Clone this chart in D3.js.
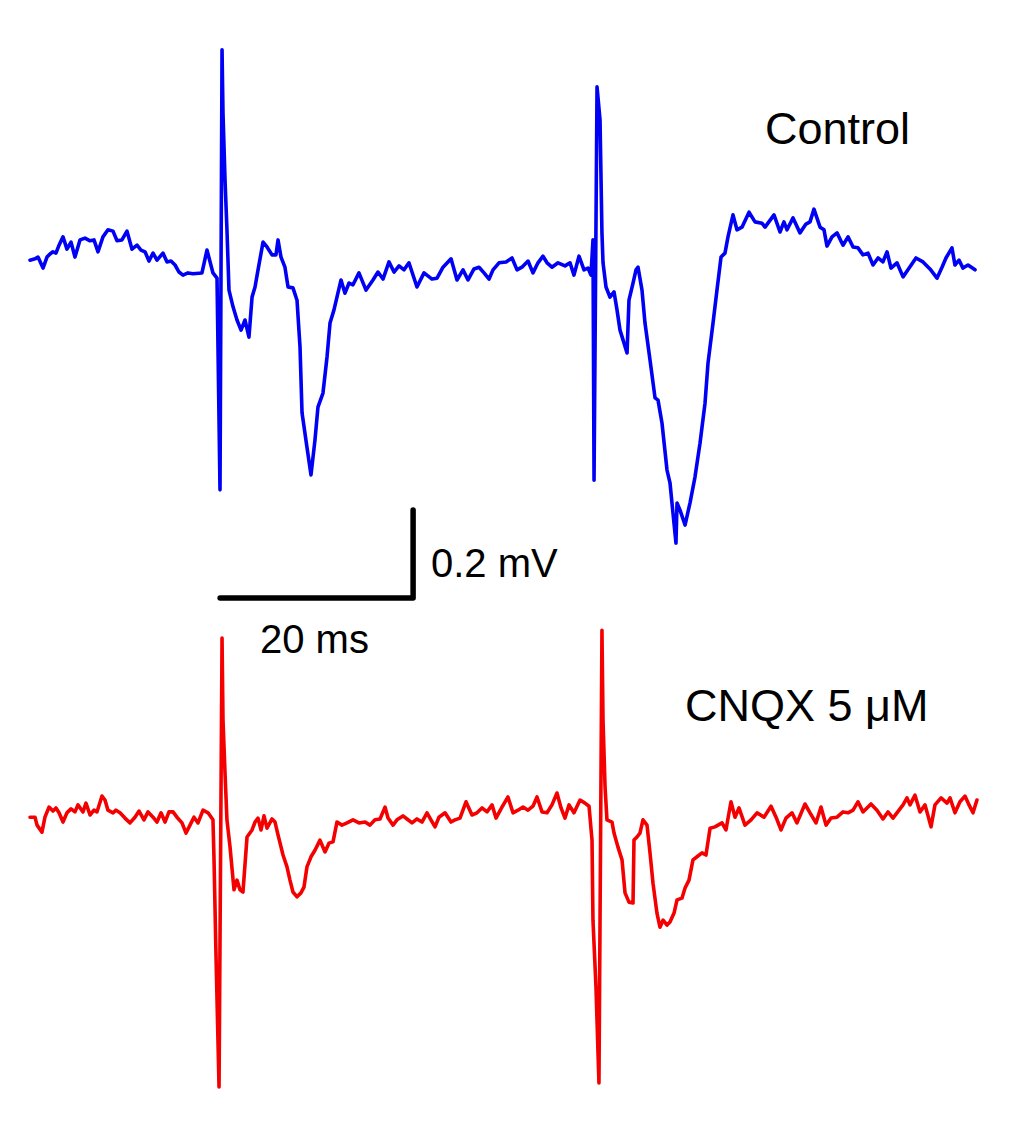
<!DOCTYPE html>
<html>
<head>
<meta charset="utf-8">
<script src="https://cdn.jsdelivr.net/npm/d3@7"></script>
<style>
  html, body { margin: 0; padding: 0; background: #ffffff; }
  svg { display: block; }
  text { font-family: "Liberation Sans", Arial, sans-serif; fill: #000; }
</style>
</head>
<body>
<script>
// ---- Data (time in ms, voltage in mV) ----
const controlTime = [0.00,0.52,0.83,1.35,1.76,2.07,2.38,2.69,3.01,3.42,3.83,4.25,4.66,5.18,5.70,6.22,6.63,7.05,7.56,8.08,8.60,9.02,9.53,10.05,10.57,11.09,11.50,11.92,12.33,12.75,13.16,13.78,14.20,14.61,15.03,15.44,15.85,16.37,16.89,17.82,18.34,18.96,19.38,19.69,19.90,20.00,20.21,20.41,20.62,21.04,21.45,21.87,22.28,22.69,23.01,23.32,23.63,24.15,24.56,25.08,25.49,25.70,26.01,26.42,26.74,27.25,27.67,27.98,28.19,28.70,29.12,29.53,29.84,30.36,30.78,31.09,31.50,31.81,32.23,32.64,33.06,33.47,34.09,34.82,35.54,36.06,36.58,37.20,37.72,38.24,38.76,39.27,40.10,40.83,41.66,42.18,42.80,43.63,44.25,44.87,45.39,46.01,46.53,47.05,47.57,47.98,48.60,49.33,49.95,50.47,50.98,51.61,52.12,52.64,53.16,53.58,54.09,54.72,55.44,55.96,56.37,56.89,57.41,57.82,58.13,58.34,58.45,58.76,59.07,59.27,59.38,59.69,60.10,60.52,60.83,61.14,61.55,61.87,62.07,62.49,62.80,63.01,63.42,63.73,64.25,64.77,65.08,65.49,66.01,66.32,66.63,66.94,67.05,67.36,67.88,68.39,68.91,69.43,69.95,70.26,70.78,71.19,71.61,72.02,72.33,72.85,73.26,73.78,74.51,75.13,75.85,76.17,77.10,77.72,78.13,78.45,79.07,79.79,80.41,80.83,81.24,81.87,82.28,82.59,83.11,83.63,84.25,84.77,85.29,85.80,86.32,86.84,87.36,87.88,88.39,88.81,89.22,89.84,90.47,90.98,91.81,92.54,93.26,93.99,94.51,94.92,95.54,95.85,96.27,96.68,97.20,97.93];
const controlVoltage = [0.011,0.014,0.018,-0.007,0.018,0.025,0.030,0.027,0.045,0.064,0.036,0.052,0.018,0.057,0.061,0.055,0.057,0.030,0.064,0.080,0.077,0.055,0.057,0.077,0.036,0.045,0.034,0.030,0.009,0.027,0.011,0.027,0.007,0.009,0.000,-0.016,-0.023,-0.018,-0.020,-0.018,0.034,-0.018,-0.030,-0.511,0.489,0.345,0.193,0.080,-0.057,-0.095,-0.125,-0.148,-0.125,-0.164,-0.073,-0.050,-0.011,0.052,0.041,0.023,0.023,0.057,0.018,-0.005,-0.050,-0.052,-0.080,-0.186,-0.336,-0.414,-0.477,-0.398,-0.323,-0.291,-0.209,-0.132,-0.102,-0.073,-0.034,-0.064,-0.041,-0.045,-0.018,-0.057,-0.034,-0.016,-0.032,0.007,-0.016,-0.002,-0.011,0.005,-0.050,-0.018,-0.032,-0.030,-0.005,0.014,-0.034,-0.011,-0.034,-0.009,-0.005,-0.018,-0.032,-0.011,0.005,0.007,0.016,-0.011,-0.005,0.009,-0.018,0.005,0.020,0.005,-0.005,0.005,-0.002,0.005,-0.023,0.020,-0.011,-0.007,-0.023,0.057,-0.489,0.405,0.330,0.073,0.005,-0.050,-0.073,-0.061,-0.102,-0.148,-0.177,-0.200,-0.080,-0.041,-0.011,-0.005,-0.057,-0.132,-0.216,-0.302,-0.307,-0.359,-0.466,-0.495,-0.564,-0.632,-0.541,-0.557,-0.591,-0.541,-0.482,-0.405,-0.314,-0.223,-0.132,-0.057,0.018,0.027,0.064,0.114,0.080,0.086,0.120,0.098,0.095,0.086,0.114,0.075,0.098,0.080,0.107,0.073,0.093,0.098,0.127,0.086,0.080,0.043,0.064,0.073,0.045,0.064,0.041,0.039,0.023,0.027,0.000,0.016,0.007,0.030,-0.007,0.005,-0.027,-0.011,0.016,0.007,-0.009,-0.030,-0.005,0.016,0.039,0.000,0.011,-0.007,0.000,-0.011];

const cnqxTime = [0.00,0.52,0.73,1.24,1.55,1.97,2.38,2.69,3.01,3.42,3.83,4.25,4.66,4.97,5.49,5.80,6.22,6.63,6.94,7.46,7.77,8.08,8.60,8.91,9.33,9.84,10.36,10.88,11.30,11.81,12.23,12.75,13.16,13.58,13.99,14.40,14.82,15.23,15.75,16.17,16.58,16.99,17.41,17.93,18.45,18.96,19.07,19.27,19.59,19.90,20.00,20.21,20.41,20.73,21.14,21.45,21.76,22.07,22.49,23.01,23.32,23.63,23.94,24.25,24.56,25.08,25.39,25.70,26.22,26.63,26.94,27.25,27.67,28.08,28.39,28.70,29.12,29.53,30.05,30.57,30.98,31.40,31.81,32.33,32.85,33.47,34.09,34.72,35.23,35.75,36.27,36.79,37.10,37.62,38.03,38.65,39.07,39.59,40.10,40.62,41.14,41.55,41.97,42.38,43.01,43.63,44.04,44.56,45.18,45.80,46.32,46.84,47.36,47.88,48.29,48.91,49.53,50.05,50.57,51.09,51.61,52.12,52.54,53.06,53.58,54.09,54.61,55.03,55.44,55.86,56.37,57.00,57.51,57.93,58.24,58.34,58.65,58.96,59.27,59.38,59.59,59.79,60.31,60.52,60.93,61.35,61.66,62.07,62.49,62.59,62.90,63.21,63.52,63.94,64.25,64.56,64.97,65.28,65.60,66.01,66.32,66.74,67.05,67.56,67.88,68.29,68.70,69.12,69.64,70.05,70.47,70.98,71.71,72.12,72.64,73.06,73.47,74.09,74.72,75.34,76.06,76.79,77.31,77.82,78.34,78.96,79.48,80.31,80.83,81.45,81.97,82.49,83.01,83.63,84.25,84.77,85.29,85.80,86.32,87.15,87.77,88.39,88.91,89.43,89.84,90.47,90.88,91.19,91.71,92.23,92.75,93.37,93.78,94.41,95.03,95.34,95.85,96.37,96.89,97.31,97.72,98.13];
const cnqxVoltage = [-0.005,-0.005,-0.023,-0.039,-0.005,0.018,0.009,0.016,0.005,-0.016,0.005,0.014,0.007,0.023,0.007,0.027,0.000,0.011,0.007,0.043,0.034,0.011,0.005,0.011,0.005,-0.007,-0.018,-0.005,0.009,-0.011,0.007,-0.005,-0.016,0.005,-0.016,0.007,0.007,-0.005,-0.018,-0.041,-0.023,-0.005,-0.018,0.011,0.005,-0.011,-0.102,-0.314,-0.618,0.402,0.216,0.095,-0.011,-0.073,-0.170,-0.148,-0.170,-0.175,-0.050,-0.034,-0.016,-0.007,-0.034,-0.002,-0.030,-0.009,-0.016,-0.045,-0.091,-0.118,-0.148,-0.175,-0.186,-0.177,-0.164,-0.118,-0.095,-0.080,-0.057,-0.084,-0.064,-0.061,-0.016,-0.023,-0.018,-0.011,-0.018,-0.016,-0.023,-0.011,-0.009,0.018,-0.007,-0.023,-0.011,-0.002,-0.009,-0.018,-0.009,-0.016,0.005,-0.011,-0.027,-0.005,0.005,-0.016,-0.011,-0.007,0.030,0.000,0.005,0.016,0.007,0.023,-0.007,0.018,0.041,0.005,0.011,0.018,0.011,0.020,0.041,0.007,0.005,0.023,0.050,0.016,-0.007,0.023,0.005,0.034,0.027,0.020,-0.057,-0.239,-0.391,-0.609,0.420,0.216,0.064,-0.011,-0.016,-0.041,-0.073,-0.102,-0.177,-0.198,-0.200,-0.057,-0.050,-0.041,-0.011,-0.023,-0.086,-0.155,-0.223,-0.255,-0.239,-0.250,-0.243,-0.223,-0.193,-0.189,-0.166,-0.148,-0.102,-0.095,-0.086,-0.091,-0.030,-0.027,-0.018,-0.034,0.030,-0.005,0.016,-0.023,-0.011,0.005,-0.005,0.020,-0.005,-0.034,-0.007,0.005,-0.018,0.025,0.005,-0.018,0.018,-0.023,-0.007,-0.005,0.007,0.005,0.011,0.030,0.007,0.025,0.011,-0.009,0.007,-0.007,0.005,0.023,0.039,0.023,0.045,0.007,0.023,-0.027,0.023,0.039,0.027,0.039,0.005,0.030,0.043,0.023,0.005,0.034];

const traceLabels = ["Control", "CNQX 5 \u03BCM"];
const traceColors = ["#0000f5", "#f50000"];
const scaleBarTime = 20;      // ms
const scaleBarVolt = 0.2;     // mV
const scaleBarLabels = ["20 ms", "0.2 mV"];

// ---- Layout ----
const W = 1024, H = 1123;
const svg = d3.select("body").append("svg").attr("width", W).attr("height", H);

// 9.65 px per ms, 440 px per mV
const x = d3.scaleLinear().domain([0, 100]).range([30, 995]);
const yControl = d3.scaleLinear().domain([-1, 1]).range([265 + 440, 265 - 440]);
const yCnqx = d3.scaleLinear().domain([-1, 1]).range([815 + 440, 815 - 440]);

function drawTrace(times, volts, yScale, color) {
  const pts = d3.zip(times, volts);
  const line = d3.line().x(d => x(d[0])).y(d => yScale(d[1]));
  svg.append("path")
    .datum(pts)
    .attr("d", line)
    .attr("fill", "none")
    .attr("stroke", color)
    .attr("stroke-width", 3.6)
    .attr("stroke-linejoin", "round")
    .attr("stroke-linecap", "round");
}

drawTrace(controlTime, controlVoltage, yControl, traceColors[0]);
drawTrace(cnqxTime, cnqxVoltage, yCnqx, traceColors[1]);

// Labels
svg.append("text").attr("x", 765).attr("y", 144)
  .attr("font-size", 45).text(traceLabels[0]);
svg.append("text").attr("x", 685).attr("y", 721)
  .attr("font-size", 45).text(traceLabels[1]);

// Scale bar (anchored in the control trace's coordinates)
const sbT0 = 19.7;
const sbV0 = -0.757;
const sbPath = d3.path();
sbPath.moveTo(x(sbT0), yControl(sbV0));
sbPath.lineTo(x(sbT0 + scaleBarTime), yControl(sbV0));
sbPath.lineTo(x(sbT0 + scaleBarTime), yControl(sbV0 + scaleBarVolt));
svg.append("path")
  .attr("d", sbPath.toString())
  .attr("fill", "none")
  .attr("stroke", "#000")
  .attr("stroke-width", 5.5)
  .attr("stroke-linejoin", "round")
  .attr("stroke-linecap", "round");

svg.append("text").attr("x", 260).attr("y", 653)
  .attr("font-size", 40).text(scaleBarLabels[0]);
svg.append("text").attr("x", 431).attr("y", 577)
  .attr("font-size", 40).text(scaleBarLabels[1]);
</script>
</body>
</html>
